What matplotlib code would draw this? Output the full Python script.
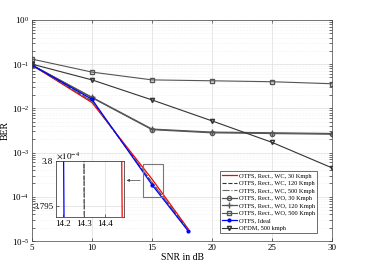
import numpy as np
import matplotlib
matplotlib.use("Agg")
import matplotlib.pyplot as plt

plt.rcParams['font.family'] = ['Liberation Serif', 'DejaVu Serif']
plt.rcParams['mathtext.fontset'] = 'stix'

# ---- data ----
snr_full = [5, 10, 15, 20, 25, 30]
snr_wc = [5, 10, 15, 18]

ber_wc_30 = [0.095, 0.0135, 2.51e-4, 1.9e-5]
ber_wc_120 = [0.095, 0.0145, 2.10e-4, 1.8e-5]
ber_wc_500 = [0.095, 0.0145, 2.10e-4, 1.8e-5]
ber_ideal = [0.095, 0.016, 1.87e-4, 1.7e-5]

ber_wo_30 = [0.095, 0.0174, 0.0033, 0.0028, 0.0027, 0.0026]
ber_wo_120 = [0.095, 0.0178, 0.0034, 0.0029, 0.0028, 0.0027]
ber_wo_500 = [0.13, 0.066, 0.044, 0.042, 0.040, 0.036]
ber_ofdm = [0.10, 0.044, 0.0155, 0.0052, 0.0017, 4.5e-4]

labels = ["OTFS, Rect., WC, 30 Kmph", "OTFS, Rect., WC, 120 Kmph",
          "OTFS, Rect., WC, 500 Kmph", "OTFS, Rect., WO, 30 Kmph",
          "OTFS, Rect., WO, 120 Kmph", "OTFS, Rect., WO, 500 Kmph",
          "OTFS, Ideal", "OFDM, 500 kmph"]

gray = '#555555'

fig = plt.figure(figsize=(3.69, 2.69), dpi=100)
ax = fig.add_axes([0.0867, 0.104, 0.8133, 0.822])


def draw(a, ms=3.0):
    a.plot(snr_wc, ber_wc_30, color='red', lw=0.9, label=labels[0])
    a.plot(snr_wc, ber_wc_120, color='#333333', lw=0.8, ls='--', label=labels[1])
    a.plot(snr_wc, ber_wc_500, color='#666666', lw=0.8, ls='-.', label=labels[2])
    a.plot(snr_full, ber_wo_30, color=gray, lw=0.9, marker='o', ms=ms,
           mfc='none', label=labels[3])
    a.plot(snr_full, ber_wo_120, color=gray, lw=0.9, marker='+', ms=ms + 1,
           label=labels[4])
    a.plot(snr_full, ber_wo_500, color=gray, lw=0.8, marker='s', ms=ms,
           mfc='none', label=labels[5])
    a.plot(snr_wc, ber_ideal, color='blue', lw=0.9, marker='.', ms=ms + 1,
           label=labels[6])
    a.plot(snr_full, ber_ofdm, color='#333333', lw=0.8, marker='v', ms=ms,
           mfc='none', label=labels[7])


draw(ax)
ax.set_yscale('log')
ax.set_xlim(5, 30)
ax.set_ylim(1e-5, 1)
ax.set_xticks([5, 10, 15, 20, 25, 30])
ax.grid(True, which='major', color='#dddddd', lw=0.5)
ax.grid(True, which='minor', color='#e8e8e8', lw=0.4, ls=':')
ax.tick_params(labelsize=6.5, length=2, width=0.4, which='both', direction='in',
               top=True, right=True, pad=2)
for s in ax.spines.values():
    s.set_linewidth(0.5)
    s.set_color('#444444')
ax.set_xlabel("SNR in dB", fontsize=7, labelpad=1)
ax.set_ylabel("BER", fontsize=7, labelpad=1)

leg = ax.legend(loc='lower right', bbox_to_anchor=(0.95, 0.036), fontsize=4.6,
                frameon=True, fancybox=False, framealpha=1, edgecolor='#333333',
                labelspacing=0.32, handlelength=2.4, borderpad=0.3,
                handletextpad=0.3, borderaxespad=0)
leg.get_frame().set_linewidth(0.5)

# zoom rectangle on main axes
rx0, rx1, ry0, ry1 = 14.25, 15.9, 1.0e-4, 5.5e-4
ax.plot([rx0, rx1, rx1, rx0, rx0], [ry0, ry0, ry1, ry1, ry0], color='#777777', lw=0.8)
ax.annotate("", xy=(12.65, 2.35e-4), xytext=(rx0, 2.35e-4),
            arrowprops=dict(arrowstyle='-|>', color='#444444', lw=0.5,
                            mutation_scale=4))

# inset
ins = fig.add_axes([0.1518, 0.193, 0.184, 0.208])
draw(ins)
ins.set_yscale('log')
ins.set_xlim(14.167, 14.49)
ins.set_ylim(3.7937e-4, 3.8e-4)
ins.minorticks_off()
ins.set_yticks([3.795e-4, 3.8e-4])
ins.set_yticklabels(['3.795', '3.8'])
ins.set_xticks([14.2, 14.3, 14.4])
ins.set_xticklabels(['14.2', '14.3', '14.4'])
ins.tick_params(labelsize=6.5, length=2, width=0.4, direction='in', pad=2)
ins.grid(True, color='#dddddd', lw=0.5)
for s in ins.spines.values():
    s.set_linewidth(0.6)
    s.set_color('#444444')
ins.text(0.0, 1.01, r'$\times10^{-4}$', transform=ins.transAxes, fontsize=6.5,
         ha='left', va='bottom')

fig.savefig("out.png", dpi=100)
